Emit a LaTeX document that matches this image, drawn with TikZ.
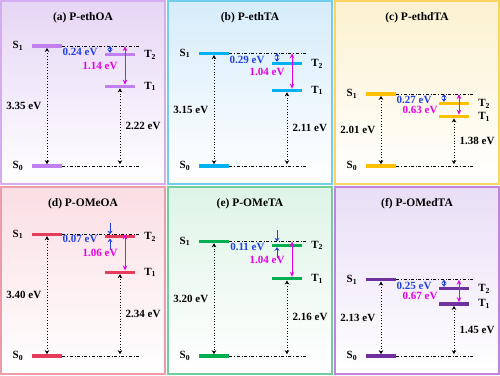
\documentclass[tikz,border=0pt]{standalone}
\usepackage{fontspec}
\setmainfont{Liberation Serif}
\usetikzlibrary{arrows.meta, positioning}

\definecolor{lvA}{RGB}{192,128,240}
\definecolor{frA}{RGB}{212,172,242}
\definecolor{bgA}{RGB}{230,214,245}
\definecolor{lvB}{RGB}{0,176,240}
\definecolor{frB}{RGB}{112,206,236}
\definecolor{bgB}{RGB}{214,236,250}
\definecolor{lvC}{RGB}{255,192,0}
\definecolor{frC}{RGB}{250,212,96}
\definecolor{bgC}{RGB}{252,242,208}
\definecolor{lvD}{RGB}{228,60,90}
\definecolor{frD}{RGB}{236,156,166}
\definecolor{bgD}{RGB}{250,222,228}
\definecolor{lvE}{RGB}{0,176,80}
\definecolor{frE}{RGB}{112,206,156}
\definecolor{bgE}{RGB}{222,244,231}
\definecolor{lvF}{RGB}{112,48,160}
\definecolor{frF}{RGB}{192,132,222}
\definecolor{bgF}{RGB}{233,222,246}
\definecolor{eVblue}{RGB}{35,65,225}
\definecolor{eVmag}{RGB}{230,0,230}

\begin{document}
\begin{tikzpicture}[
    x=1pt, y=-1pt,
    font=\fontsize{11}{13}\selectfont\bfseries,
    level/.style={fill, minimum width=30pt, minimum height=3.3pt, inner sep=0pt},
    state/.style={font=\fontsize{11}{12}\selectfont\bfseries, inner sep=1pt},
    title/.style={font=\fontsize{11.5}{13}\selectfont\bfseries},
    guide/.style={dash dot, semithick},
    gap/.style={dotted, line width=0.8pt, {Stealth[length=4pt, width=4.5pt]}-{Stealth[length=4pt, width=4.5pt]}},
    isc/.style={eVmag, line width=1pt, {Stealth[length=5pt, width=4.5pt]}-{Stealth[length=5pt, width=4.5pt]}},
    split/.style={eVblue, line width=1pt, {Stealth[length=3.5pt, width=5pt]}-{Stealth[length=3.5pt, width=5pt]}}
    ]

  \useasboundingbox (0,0) rectangle (500,375);

  % one panel per molecule: name/left/top/bottom/colour/title/S1/S1-T2/T1/S1-T1/outside arrows
  \foreach \pn/\px/\py/\pb/\cl/\ttl/\es/\eg/\et/\ed/\md in {
      a/1/1/184/A/P-ethOA/3.35/0.24/2.22/1.14/0,
      b/168/1/184/B/P-ethTA/3.15/0.29/2.11/1.04/0,
      c/335/1/184/C/P-ethdTA/2.01/0.27/1.38/0.63/0,
      d/1/187/374/D/P-OMeOA/3.40/0.07/2.34/1.06/1,
      e/168/187/374/E/P-OMeTA/3.20/0.11/2.16/1.04/1,
      f/335/187/374/F/P-OMedTA/2.13/0.25/1.45/0.67/0} {
    \pgfmathsetmacro\yz{\pb-18}
    \pgfmathsetmacro\ys{\yz-35.8*\es}
    \pgfmathsetmacro\yt{\yz-35.8*(\es-\eg)}
    \pgfmathsetmacro\yu{\yz-35.8*\et}
    \pgfmathsetmacro\yb{\md==0 ? (\ys+\yt)/2+1.5 : \yt+2}
    \pgfmathsetmacro\ym{max((\ys+\yu)/2,\yb+10)}
    \pgfmathsetmacro\xm{\ym>(\ys+\yu)/2+0.01 ? 106 : 120}

    \begin{scope}[shift={(\px,0)}]
      \shade[top color=bg\cl, bottom color=white] (0,\py) rectangle (164,\pb);
      \draw[fr\cl, line width=2.5pt] (0,\py) rectangle (164,\pb);
      \node[title] (ttl\pn) at (82,\py+17) {(\pn) \ttl};

      \node[level, fill=lv\cl] (s1\pn) at (46,\ys) {};
      \node[level, fill=lv\cl] (s0\pn) at (46,\yz) {};
      \node[level, fill=lv\cl] (t2\pn) at (119,\yt) {};
      \node[level, fill=lv\cl] (t1\pn) at (119,\yu) {};
      \draw[guide] (s1\pn.east) -- ([xshift=4pt]s1\pn.center -| t2\pn.east);
      \draw[guide] (s0\pn.east) -- ([xshift=4pt]s0\pn.center -| t2\pn.east);

      \node[state, left=7.5pt of s1\pn] (ls1\pn) {S\textsubscript{1}};
      \node[state, left=7.5pt of s0\pn] (ls0\pn) {S\textsubscript{0}};
      \node[state, right=8pt of t2\pn] (lt2\pn) {T\textsubscript{2}};
      \node[state, right=8pt of t1\pn] (lt1\pn) {T\textsubscript{1}};

      \draw[gap] (s1\pn) -- (s0\pn) node[midway, left=2pt] (es\pn) {\es{} eV};
      \draw[gap] (t1\pn) -- (t1\pn |- s0\pn.north) node[midway, right=2pt] (et\pn) {\et{} eV};
      \draw[isc] ([xshift=5pt]t1\pn.north) -- ([xshift=5pt]t1\pn.north |- s1\pn);
      \ifnum\md=0
        \draw[split] ([xshift=-10pt]t2\pn.north) -- ([xshift=-10pt]t2\pn.north |- s1\pn);
      \else
        \draw[split, -{Stealth[length=3.5pt, width=5pt]}] ([xshift=-10pt, yshift=11pt]t2\pn.north |- s1\pn) -- ([xshift=-10pt]t2\pn.north |- s1\pn);
        \draw[split, -{Stealth[length=3.5pt, width=5pt]}] ([xshift=-10pt, yshift=-11pt]t2\pn.south) -- ([xshift=-10pt]t2\pn.south);
      \fi
      \node[text=eVblue, anchor=east] (eg\pn) at (100,\yb) {\eg{} eV};
      \node[text=eVmag, anchor=east] (ed\pn) at (\xm,\ym) {\ed{} eV};
    \end{scope}
  }
\end{tikzpicture}
\end{document}
